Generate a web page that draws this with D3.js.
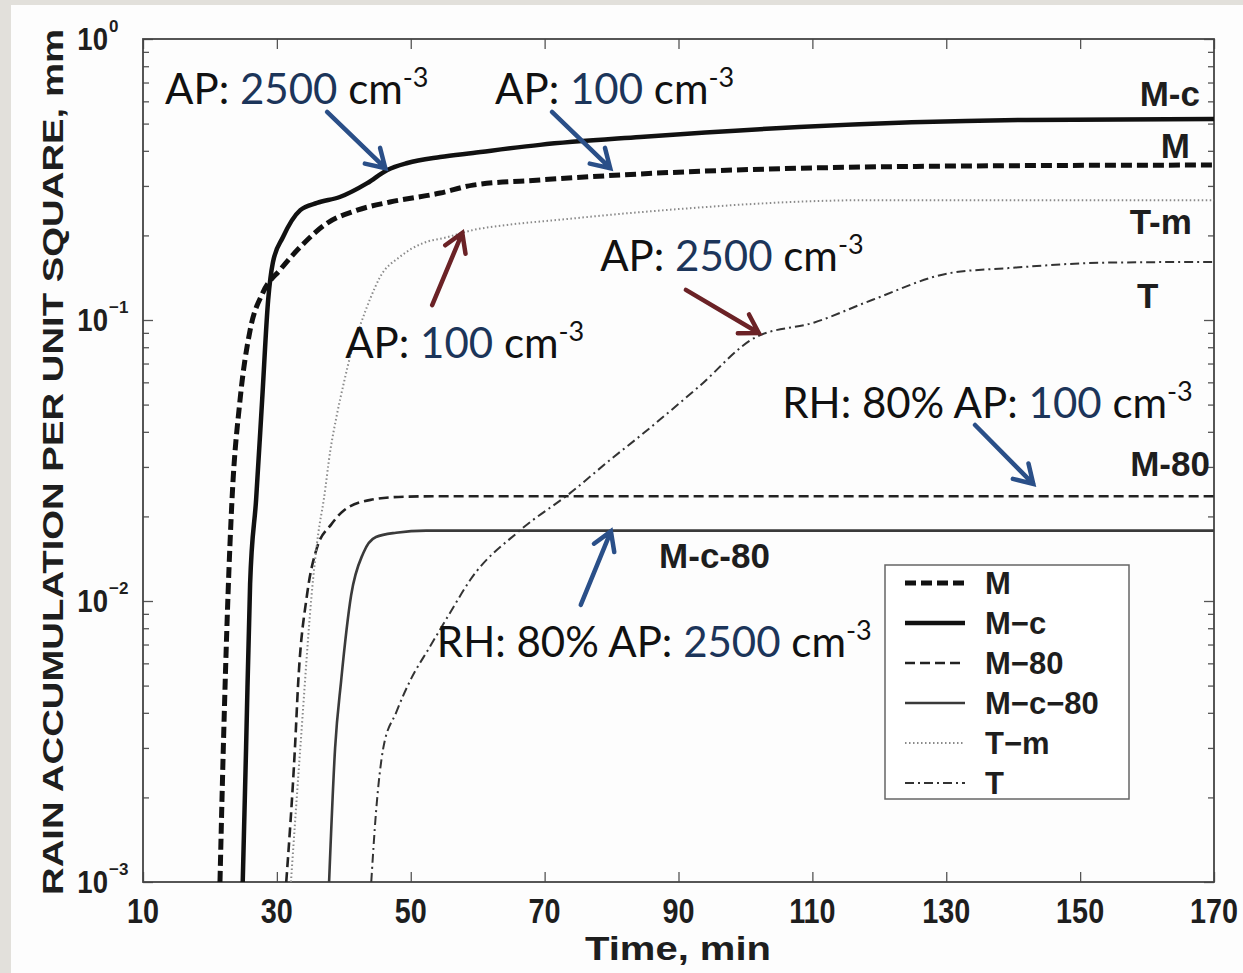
<!DOCTYPE html>
<html lang="en">
  <head>
    <meta charset="UTF-8" />
    <title>Rain accumulation</title>
    <style>
      body { margin: 0; background: #e2e0db; }
      svg { display: block; }
      .lab { font-family: "Liberation Sans", Arial, sans-serif; font-weight: bold; fill: #1e1e1e; }
      .ann { font-family: Lato, "Open Sans", sans-serif; fill: #111; }
    </style>
  </head>
  <body>
    <script src="https://d3js.org/d3.v7.min.js"></script>
    <script>
      // values (time in min, rain in mm)
      const mTime = [21.5, 22.0, 22.7, 23.3, 24.5, 26.0, 27.9, 30.5, 33.5, 37.5, 42, 46.9, 54.4, 59.3, 69.3, 84.3, 130.6, 170];
      const mRain = [0.001, 0.003, 0.0105, 0.023, 0.052, 0.092, 0.125, 0.151, 0.182, 0.221, 0.246, 0.263, 0.283, 0.302, 0.315, 0.331, 0.353, 0.356];

      const mcTime = [24.9, 25.4, 26.0, 26.9, 27.8, 28.7, 29.4, 30.9, 33.5, 36.0, 39.4, 43.5, 46.5, 49.5, 54.4, 59.3, 69.3, 84.3, 108, 142, 170];
      const mcRain = [0.001, 0.003, 0.0115, 0.023, 0.052, 0.118, 0.16, 0.197, 0.246, 0.261, 0.274, 0.307, 0.342, 0.362, 0.38, 0.393, 0.42, 0.448, 0.486, 0.515, 0.519];

      const m80Time = [31.4, 32.7, 33.2, 34.5, 36.0, 38.1, 40.0, 44.0, 49.0, 55, 170];
      const m80Rain = [0.001, 0.003, 0.0052, 0.0105, 0.0155, 0.0187, 0.021, 0.0229, 0.0235, 0.0236, 0.0236];

      const mc80Time = [37.8, 38.7, 39.6, 41.1, 42.9, 44.8, 47.8, 52.3, 170];
      const mc80Rain = [0.001, 0.003, 0.0052, 0.0105, 0.0148, 0.0169, 0.0175, 0.0178, 0.0178];

      const tmTime = [32.1, 33.5, 35.4, 36.2, 37.0, 38.0, 38.9, 40.0, 41.2, 42.6, 44.0, 45.4, 48.4, 51.9, 55.4, 59.3, 64.4, 71.9, 84.3, 119, 170];
      const tmRain = [0.001, 0.003, 0.0119, 0.0175, 0.0229, 0.0345, 0.0452, 0.0597, 0.078, 0.098, 0.12, 0.142, 0.168, 0.188, 0.197, 0.209, 0.218, 0.227, 0.242, 0.267, 0.267];

      const tTime = [44.1, 44.8, 45.9, 47.8, 49.9, 52.9, 55.9, 58.9, 66.4, 73.8, 79.8, 84.8, 93.0, 101.6, 110.3, 119, 130.6, 139.3, 153.8, 170];
      const tRain = [0.001, 0.00176, 0.003, 0.004, 0.0052, 0.0069, 0.0091, 0.0119, 0.0179, 0.0242, 0.0318, 0.0396, 0.0578, 0.087, 0.098, 0.118, 0.147, 0.153, 0.16, 0.161];

      const xTicks = [10, 30, 50, 70, 90, 110, 130, 150, 170];
      const yTicks = [1e-3, 1e-2, 1e-1, 1];
      const yTickExp = ["\u22123", "\u22122", "\u22121", "0"];

      const series = [
        { name: "M", legend: "M", time: mTime, rain: mRain, width: 5, dash: "11,5", color: "#111" },
        { name: "M-c", legend: "M\u2212c", time: mcTime, rain: mcRain, width: 4.5, dash: null, color: "#111" },
        { name: "M-80", legend: "M\u221280", time: m80Time, rain: m80Rain, width: 2.6, dash: "10,5", color: "#222" },
        { name: "M-c-80", legend: "M\u2212c\u221280", time: mc80Time, rain: mc80Rain, width: 2.6, dash: null, color: "#3a3a3a" },
        { name: "T-m", legend: "T\u2212m", time: tmTime, rain: tmRain, width: 2, dash: "1.5,2.5", color: "#8a8a8a" },
        { name: "T", legend: "T", time: tTime, rain: tRain, width: 2, dash: "9,4,2,4", color: "#333" },
      ];

      // curve labels beside the lines (data coordinates)
      const curveLabels = [
        { text: "M-c", t: 167.9, v: 0.578, anchor: "end" },
        { text: "M", t: 166.4, v: 0.377, anchor: "end" },
        { text: "T-m", t: 166.7, v: 0.202, anchor: "end" },
        { text: "T", t: 160.1, v: 0.11, anchor: "middle" },
        { text: "M-80", t: 169.4, v: 0.0279, anchor: "end" },
        { text: "M-c-80", t: 87.1, v: 0.0131, anchor: "start" },
      ];

      // annotation texts and arrows (data coordinates)
      const notes = [
        { pre: "AP: ", num: "2500", t: 13.3, v: 0.587 },
        { pre: "AP: ", num: "100", t: 62.6, v: 0.587 },
        { pre: "AP: ", num: "100", t: 40.2, v: 0.0732 },
        { pre: "AP: ", num: "2500", t: 78.3, v: 0.149 },
        { pre: "RH: 80% AP: ", num: "100", t: 105.5, v: 0.0448 },
        { pre: "RH: 80% AP: ", num: "2500", t: 53.9, v: 0.00632 },
      ];
      const arrows = [
        { t0: 37.5, v0: 0.55, t1: 46.2, v1: 0.347, color: "#2a4f88" },
        { t0: 71.1, v0: 0.55, t1: 79.8, v1: 0.347, color: "#2a4f88" },
        { t0: 53.2, v0: 0.113, t1: 57.7, v1: 0.204, color: "#6b2226" },
        { t0: 91.1, v0: 0.128, t1: 102.0, v1: 0.0899, color: "#6b2226" },
        { t0: 134.3, v0: 0.0423, t1: 143.0, v1: 0.0261, color: "#2a4f88" },
        { t0: 75.4, v0: 0.00968, t1: 79.9, v1: 0.0177, color: "#2a4f88" },
      ];

      const W = 1243, H = 973;
      const plotL = 143, plotR = 1214, plotT = 39, plotB = 882;

      const svg = d3.select("body").append("svg").attr("width", W).attr("height", H);
      svg.append("rect").attr("x", 11).attr("y", 5).attr("width", W - 11).attr("height", H - 5).attr("fill", "#fdfdfd");

      const x = d3.scaleLinear().domain([10, 170]).range([plotL, plotR]);
      const y = d3.scaleLog().domain([1e-3, 1]).range([plotB, plotT]);

      svg.append("defs").append("clipPath").attr("id", "plot")
        .append("rect").attr("x", plotL).attr("y", plotT).attr("width", plotR - plotL).attr("height", plotB - plotT);

      // ticks pointing inward on all four sides
      const minor = [];
      for (let k = -3; k < 0; k++) for (let m = 2; m <= 9; m++) minor.push(m * Math.pow(10, k));

      function tickStyle(g) {
        g.selectAll(".domain").remove();
        g.selectAll("text").remove();
        g.selectAll("line").attr("stroke", "#555").attr("stroke-width", 1.3);
      }
      svg.append("g").attr("transform", `translate(0,${plotB})`).call(d3.axisTop(x).tickValues(xTicks).tickSize(10)).call(tickStyle);
      svg.append("g").attr("transform", `translate(0,${plotT})`).call(d3.axisBottom(x).tickValues(xTicks).tickSize(10)).call(tickStyle);
      svg.append("g").attr("transform", `translate(${plotL},0)`).call(d3.axisRight(y).tickValues(yTicks).tickSize(10)).call(tickStyle);
      svg.append("g").attr("transform", `translate(${plotR},0)`).call(d3.axisLeft(y).tickValues(yTicks).tickSize(10)).call(tickStyle);
      svg.append("g").attr("transform", `translate(${plotL},0)`).call(d3.axisRight(y).tickValues(minor).tickSize(6)).call(tickStyle);
      svg.append("g").attr("transform", `translate(${plotR},0)`).call(d3.axisLeft(y).tickValues(minor).tickSize(6)).call(tickStyle);

      svg.append("rect").attr("x", plotL).attr("y", plotT).attr("width", plotR - plotL).attr("height", plotB - plotT)
        .attr("fill", "none").attr("stroke", "#444").attr("stroke-width", 1.8);

      // tick labels (slightly condensed like the original)
      svg.append("g").selectAll("text").data(xTicks).join("text")
        .attr("class", "lab").attr("transform", (d) => `translate(${x(d)},${plotB + 41}) scale(0.9,1.12)`)
        .attr("text-anchor", "middle").attr("font-size", 32).text((d) => d);

      svg.append("g").selectAll("text").data(yTicks).join("text")
        .attr("class", "lab").attr("transform", (d) => `translate(108,${y(d) + 11}) scale(0.95,1.1)`)
        .attr("text-anchor", "end").attr("font-size", 29).text("10");
      svg.append("g").selectAll("text").data(yTicks).join("text")
        .attr("class", "lab").attr("x", 109).attr("y", (d) => y(d) - 7)
        .attr("font-size", 17).text((d, i) => yTickExp[i]);

      // axis titles
      svg.append("text").attr("class", "lab").attr("x", 678).attr("y", 960)
        .attr("text-anchor", "middle").attr("font-size", 34)
        .attr("textLength", 186).attr("lengthAdjust", "spacingAndGlyphs").text("Time, min");
      svg.append("text").attr("class", "lab")
        .attr("transform", "translate(63,462) rotate(-90)")
        .attr("text-anchor", "middle").attr("font-size", 30)
        .attr("textLength", 866).attr("lengthAdjust", "spacingAndGlyphs")
        .text("RAIN ACCUMULATION PER UNIT SQUARE,  mm");

      // curves
      const line = d3.line().x((d) => x(d[0])).y((d) => y(d[1])).curve(d3.curveMonotoneX);
      svg.append("g").attr("clip-path", "url(#plot)").selectAll("path").data(series).join("path")
        .attr("d", (s) => line(s.time.map((t, i) => [t, s.rain[i]])))
        .attr("fill", "none").attr("stroke", (s) => s.color).attr("stroke-width", (s) => s.width)
        .attr("stroke-dasharray", (s) => s.dash);

      // curve labels
      svg.append("g").selectAll("text").data(curveLabels).join("text")
        .attr("class", "lab").attr("x", (d) => x(d.t)).attr("y", (d) => y(d.v))
        .attr("text-anchor", (d) => d.anchor).attr("font-size", 35).text((d) => d.text);

      // legend
      const lg = svg.append("g").attr("transform", "translate(885,565)");
      lg.append("rect").attr("width", 244).attr("height", 234).attr("fill", "#fff").attr("stroke", "#666").attr("stroke-width", 1.5);
      const row = lg.selectAll("g").data(series).join("g").attr("transform", (d, i) => `translate(0,${18 + i * 40})`);
      row.append("line").attr("x1", 20).attr("x2", 80)
        .attr("stroke", (s) => s.color).attr("stroke-width", (s) => s.width)
        .attr("stroke-dasharray", (s) => s.dash);
      row.append("text").attr("class", "lab").attr("x", 100).attr("y", 11).attr("font-size", 31).text((s) => s.legend);

      // annotations
      const nt = svg.append("g").selectAll("text").data(notes).join("text")
        .attr("class", "ann").attr("x", (d) => x(d.t)).attr("y", (d) => y(d.v)).attr("font-size", 42);
      nt.append("tspan").text((d) => d.pre);
      nt.append("tspan").attr("fill", "#1c355a").text((d) => d.num);
      nt.append("tspan").text(" cm");
      nt.append("tspan").attr("font-size", 27).attr("dy", -17).text("-3");

      const ag = svg.append("g").selectAll("g").data(arrows).join("g")
        .attr("stroke", (d) => d.color).attr("stroke-width", 4.5).attr("fill", "none").attr("stroke-linecap", "round");
      ag.append("path").attr("d", (d) => {
        const x0 = x(d.t0), y0 = y(d.v0), x1 = x(d.t1), y1 = y(d.v1);
        const a = Math.atan2(y1 - y0, x1 - x0), L = 21, s = 0.55;
        const hx1 = x1 - L * Math.cos(a - s), hy1 = y1 - L * Math.sin(a - s);
        const hx2 = x1 - L * Math.cos(a + s), hy2 = y1 - L * Math.sin(a + s);
        return `M${x0},${y0}L${x1},${y1}M${hx1},${hy1}L${x1},${y1}L${hx2},${hy2}`;
      });
    </script>
  </body>
</html>
